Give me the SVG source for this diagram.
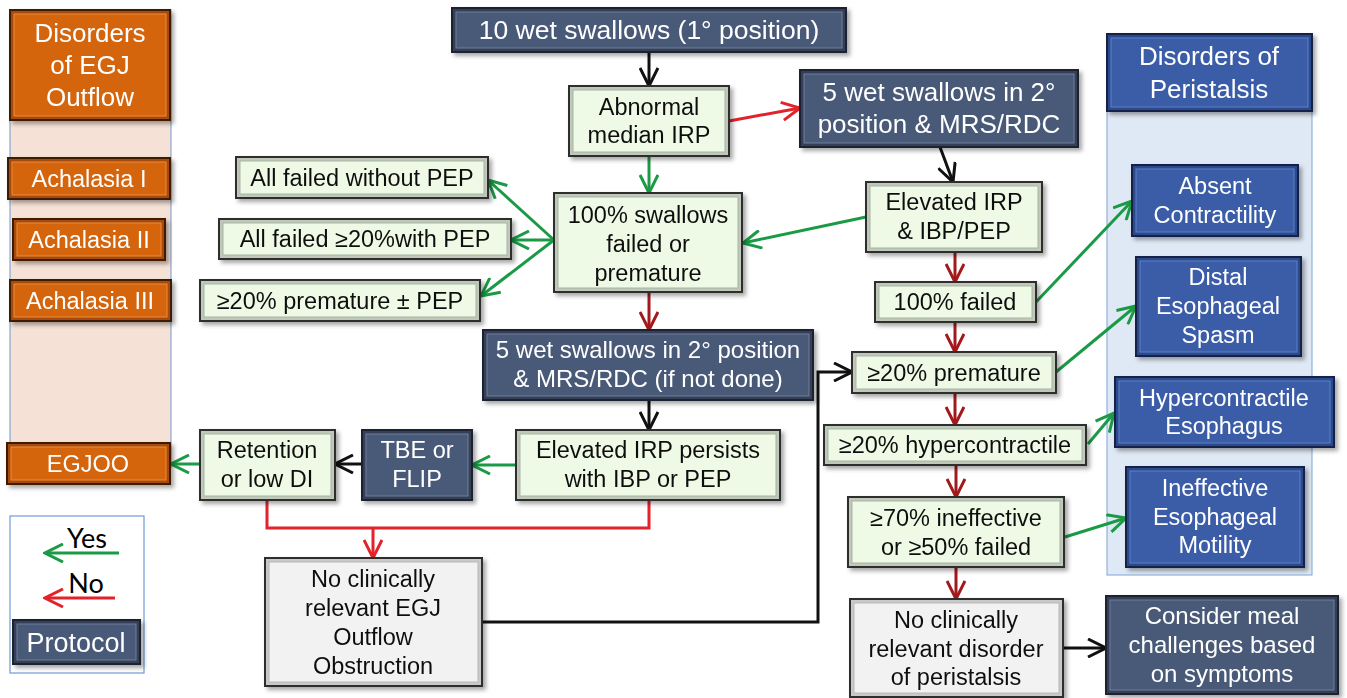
<svg xmlns="http://www.w3.org/2000/svg" width="1347" height="698" viewBox="0 0 1347 698">
<defs>
<filter id="sh" x="-10%" y="-10%" width="130%" height="140%"><feDropShadow dx="3" dy="3" stdDeviation="2" flood-color="#000" flood-opacity="0.35"/></filter>
<marker id="ak" viewBox="0 0 22 20" refX="20" refY="10" markerWidth="22" markerHeight="20" markerUnits="userSpaceOnUse" orient="auto"><path d="M2,1 L20,10 L2,19" fill="none" stroke="#111" stroke-width="3"/></marker>
<marker id="ag" viewBox="0 0 22 20" refX="20" refY="10" markerWidth="22" markerHeight="20" markerUnits="userSpaceOnUse" orient="auto"><path d="M2,1 L20,10 L2,19" fill="none" stroke="#1b9a46" stroke-width="3"/></marker>
<marker id="ar" viewBox="0 0 22 20" refX="20" refY="10" markerWidth="22" markerHeight="20" markerUnits="userSpaceOnUse" orient="auto"><path d="M2,1 L20,10 L2,19" fill="none" stroke="#e3232b" stroke-width="3"/></marker>
<marker id="ad" viewBox="0 0 22 20" refX="20" refY="10" markerWidth="22" markerHeight="20" markerUnits="userSpaceOnUse" orient="auto"><path d="M2,1 L20,10 L2,19" fill="none" stroke="#a3191b" stroke-width="3"/></marker>
</defs>
<style>
.o{stroke-width:2}
.i{stroke-width:1}
.n{filter:url(#sh)}
.g .o{fill:#bfc8b9;stroke:#2d2d2d}
.g .i{fill:#eefae6;stroke:#a9b3a5}
.p .o{fill:#344056;stroke:#1c2230}
.p .i{fill:#4a5a78;stroke:#6e7e9b}
.or .o{fill:#a84a07;stroke:#3d1a03}
.or .i{fill:#d4650d;stroke:#ec8d3f}
.b .o{fill:#2a4a8e;stroke:#142245}
.b .i{fill:#3b5da8;stroke:#5f80c4}
.gr .o{fill:#c9c9c9;stroke:#2d2d2d}
.gr .i{fill:#f2f2f2;stroke:#b8b8b8}
text{font-family:"Liberation Sans",Arial,sans-serif;font-size:23.5px;text-anchor:middle;fill:#111}
.p text,.or text,.b text{fill:#fff}
.big{font-size:26px}
.c{fill:none;stroke-width:3}
.k{stroke:#111}
.gn{stroke:#1b9a46}
.rd{stroke:#e3232b}
.dr{stroke:#a3191b}
.lg{font-family:Lato,"Open Sans",sans-serif;font-size:27px;fill:#000}
</style>
<rect x="10" y="10" width="161" height="458" fill="#f5e1d5" stroke="#6d9bd6" stroke-width="1"/>
<rect x="1107" y="34" width="205" height="541" fill="#dfe9f5" stroke="#7ea4d9" stroke-width="1"/>
<g id="legend">
<rect x="10" y="516" width="134" height="157" fill="#fff" stroke="#6f9bd8" stroke-width="1.2"/>
<text class="lg" x="87" y="548">Yes</text>
<path d="M119,553 H45" class="c gn" marker-end="url(#ag)"/>
<text class="lg" x="86" y="593">No</text>
<path d="M115,598 H45" class="c rd" marker-end="url(#ar)"/>
<g class="p n"><rect class="o" x="13" y="620" width="127" height="44"/><rect class="i" x="17" y="624" width="119" height="36"/><text x="76" y="652" style="font-size:27px">Protocol</text></g>
</g>
<g id="connectors">
<path d="M649,52 V86" class="c k" marker-end="url(#ak)"/>
<path d="M729,121 L800,108" class="c rd" marker-end="url(#ar)"/>
<path d="M649,156 V193" class="c gn" marker-end="url(#ag)"/>
<path d="M940,147 L953,182" class="c k" marker-end="url(#ak)"/>
<path d="M866,217 L743,243" class="c gn" marker-end="url(#ag)"/>
<path d="M955,252 V282" class="c dr" marker-end="url(#ad)"/>
<path d="M1036,302 L1132,201" class="c gn" marker-end="url(#ag)"/>
<path d="M955,322 V352" class="c dr" marker-end="url(#ad)"/>
<path d="M1056,372 L1136,306" class="c gn" marker-end="url(#ag)"/>
<path d="M955,393 V425" class="c dr" marker-end="url(#ad)"/>
<path d="M1088,444 L1114,413" class="c gn" marker-end="url(#ag)"/>
<path d="M956,465 V497" class="c dr" marker-end="url(#ad)"/>
<path d="M1065,537 L1126,518" class="c gn" marker-end="url(#ag)"/>
<path d="M956,567 V599" class="c dr" marker-end="url(#ad)"/>
<path d="M1063,648 H1106" class="c k" marker-end="url(#ak)"/>
<path d="M554,240 L488,180" class="c gn" marker-end="url(#ag)"/>
<path d="M554,240 L511,240" class="c gn" marker-end="url(#ag)"/>
<path d="M554,240 L481,296" class="c gn" marker-end="url(#ag)"/>
<path d="M649,292 V330" class="c dr" marker-end="url(#ad)"/>
<path d="M649,400 V430" class="c k" marker-end="url(#ak)"/>
<path d="M516,465 H472" class="c gn" marker-end="url(#ag)"/>
<path d="M362,464 H335" class="c k" marker-end="url(#ak)"/>
<path d="M200,464 H171" class="c gn" marker-end="url(#ag)"/>
<path d="M267,500 V528 H649 V500" class="c rd"/>
<path d="M373,528 V558" class="c rd" marker-end="url(#ar)"/>
<path d="M482,622 H818 V372 H852" class="c k" marker-end="url(#ak)"/>
</g>
<g id="n_title" class="p n"><rect class="o" x="452" y="8" width="394" height="44"/><rect class="i" x="456" y="12" width="386" height="36"/><text x="649" y="39" style="font-size:26.5px">10 wet swallows (1° position)</text></g>
<g id="n_abn" class="g n"><rect class="o" x="569" y="86" width="160" height="70"/><rect class="i" x="573" y="90" width="152" height="62"/><text x="649" y="115">Abnormal</text><text x="649" y="143">median IRP</text></g>
<g id="n_wet2" class="p n"><rect class="o" x="800" y="70" width="278" height="77"/><rect class="i" x="804" y="74" width="270" height="69"/><text class="big" x="939" y="101">5 wet swallows in 2°</text><text class="big" x="939" y="133">position &amp; MRS/RDC</text></g>
<g id="n_elev" class="g n"><rect class="o" x="866" y="182" width="176" height="70"/><rect class="i" x="870" y="186" width="168" height="62"/><text x="954" y="210">Elevated IRP</text><text x="954" y="239">&amp; IBP/PEP</text></g>
<g id="n_f100" class="g n"><rect class="o" x="875" y="282" width="161" height="40"/><rect class="i" x="879" y="286" width="153" height="32"/><text x="955" y="310">100% failed</text></g>
<g id="n_sw100" class="g n"><rect class="o" x="554" y="193" width="188" height="99"/><rect class="i" x="558" y="197" width="180" height="91"/><text x="648" y="223">100% swallows</text><text x="648" y="252">failed or</text><text x="648" y="281">premature</text></g>
<g id="n_allw" class="g n"><rect class="o" x="236" y="157" width="252" height="41"/><rect class="i" x="240" y="161" width="244" height="33"/><text x="362" y="186">All failed without PEP</text></g>
<g id="n_all20" class="g n"><rect class="o" x="219" y="219" width="292" height="40"/><rect class="i" x="223" y="223" width="284" height="32"/><text x="365" y="247">All failed ≥20%with PEP</text></g>
<g id="n_prem20L" class="g n"><rect class="o" x="200" y="280" width="280" height="41"/><rect class="i" x="204" y="284" width="272" height="33"/><text x="340" y="309">≥20% premature ± PEP</text></g>
<g id="n_wet2b" class="p n"><rect class="o" x="483" y="330" width="330" height="70"/><rect class="i" x="487" y="334" width="322" height="62"/><text x="648" y="358" style="font-size:24px">5 wet swallows in 2° position</text><text x="648" y="387" style="font-size:24px">&amp; MRS/RDC (if not done)</text></g>
<g id="n_persist" class="g n"><rect class="o" x="516" y="430" width="264" height="70"/><rect class="i" x="520" y="434" width="256" height="62"/><text x="648" y="458">Elevated IRP persists</text><text x="648" y="487">with IBP or PEP</text></g>
<g id="n_tbe" class="p n"><rect class="o" x="362" y="430" width="110" height="70"/><rect class="i" x="366" y="434" width="102" height="62"/><text x="417" y="458">TBE or</text><text x="417" y="487">FLIP</text></g>
<g id="n_ret" class="g n"><rect class="o" x="200" y="430" width="135" height="70"/><rect class="i" x="204" y="434" width="127" height="62"/><text x="267" y="458">Retention</text><text x="267" y="487">or low DI</text></g>
<g id="n_noegj" class="gr n"><rect class="o" x="265" y="558" width="217" height="128"/><rect class="i" x="269" y="562" width="209" height="120"/><text x="373" y="587">No clinically</text><text x="373" y="616">relevant EGJ</text><text x="373" y="645">Outflow</text><text x="373" y="674">Obstruction</text></g>
<g id="n_prem20R" class="g n"><rect class="o" x="852" y="352" width="204" height="41"/><rect class="i" x="856" y="356" width="196" height="33"/><text x="954" y="381">≥20% premature</text></g>
<g id="n_hyper" class="g n"><rect class="o" x="824" y="425" width="262" height="40"/><rect class="i" x="828" y="429" width="254" height="32"/><text x="955" y="453">≥20% hypercontractile</text></g>
<g id="n_ineff" class="g n"><rect class="o" x="848" y="497" width="216" height="70"/><rect class="i" x="852" y="501" width="208" height="62"/><text x="956" y="526">≥70% ineffective</text><text x="956" y="555">or ≥50% failed</text></g>
<g id="n_nodis" class="gr n"><rect class="o" x="850" y="599" width="213" height="98"/><rect class="i" x="854" y="603" width="205" height="90"/><text x="956" y="628">No clinically</text><text x="956" y="657">relevant disorder</text><text x="956" y="685">of peristalsis</text></g>
<g id="n_meal" class="p n"><rect class="o" x="1106" y="596" width="232" height="98"/><rect class="i" x="1110" y="600" width="224" height="90"/><text x="1222" y="624" style="font-size:24px">Consider meal</text><text x="1222" y="653" style="font-size:24px">challenges based</text><text x="1222" y="682" style="font-size:24px">on symptoms</text></g>
<g id="n_egjHead" class="or n"><rect class="o" x="10" y="10" width="160" height="110"/><rect class="i" x="14" y="14" width="152" height="102"/><text class="big" x="90" y="42">Disorders</text><text class="big" x="90" y="74">of EGJ</text><text class="big" x="90" y="106">Outflow</text></g>
<g id="n_ach1" class="or n"><rect class="o" x="8" y="158" width="162" height="41"/><rect class="i" x="12" y="162" width="154" height="33"/><text x="89" y="187">Achalasia I</text></g>
<g id="n_ach2" class="or n"><rect class="o" x="13" y="219" width="152" height="41"/><rect class="i" x="17" y="223" width="144" height="33"/><text x="89" y="248">Achalasia II</text></g>
<g id="n_ach3" class="or n"><rect class="o" x="10" y="280" width="161" height="41"/><rect class="i" x="14" y="284" width="153" height="33"/><text x="90" y="309">Achalasia III</text></g>
<g id="n_egjoo" class="or n"><rect class="o" x="7" y="443" width="163" height="41"/><rect class="i" x="11" y="447" width="155" height="33"/><text x="88" y="472">EGJOO</text></g>
<g id="n_perHead" class="b n"><rect class="o" x="1107" y="34" width="205" height="77"/><rect class="i" x="1111" y="38" width="197" height="69"/><text class="big" x="1209" y="65">Disorders of</text><text class="big" x="1209" y="98">Peristalsis</text></g>
<g id="n_absent" class="b n"><rect class="o" x="1132" y="165" width="166" height="71"/><rect class="i" x="1136" y="169" width="158" height="63"/><text x="1215" y="194">Absent</text><text x="1215" y="223">Contractility</text></g>
<g id="n_des" class="b n"><rect class="o" x="1136" y="257" width="165" height="99"/><rect class="i" x="1140" y="261" width="157" height="91"/><text x="1218" y="285">Distal</text><text x="1218" y="314">Esophageal</text><text x="1218" y="343">Spasm</text></g>
<g id="n_hypE" class="b n"><rect class="o" x="1115" y="377" width="219" height="70"/><rect class="i" x="1119" y="381" width="211" height="62"/><text x="1224" y="406">Hypercontractile</text><text x="1224" y="434">Esophagus</text></g>
<g id="n_iem" class="b n"><rect class="o" x="1126" y="467" width="178" height="100"/><rect class="i" x="1130" y="471" width="170" height="92"/><text x="1215" y="496">Ineffective</text><text x="1215" y="525">Esophageal</text><text x="1215" y="553">Motility</text></g>
</svg>
